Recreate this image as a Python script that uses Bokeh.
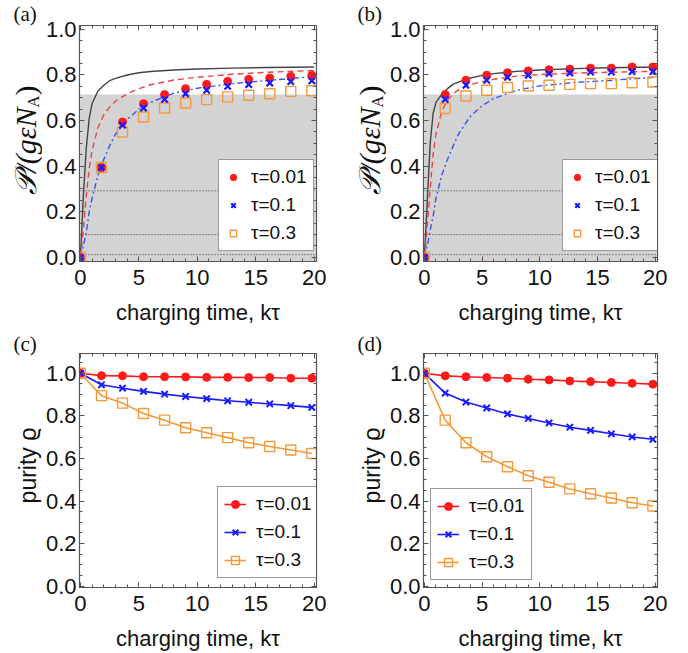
import math
from bokeh.plotting import figure
from bokeh.layouts import column, row
from bokeh.models import (Range1d, SingleIntervalTicker, LinearAxis, Label, Legend, LegendItem,
                          BoxAnnotation, Span, PrintfTickFormatter, CustomJSTickFormatter)
from bokeh.embed import file_html
from bokeh.resources import INLINE

# ---------------- data ----------------
t_pts = [0, 1.8, 3.6, 5.4, 7.2, 9.0, 10.8, 12.6, 14.4, 16.2, 18.0, 19.8]
labels = ["τ=0.01", "τ=0.1", "τ=0.3"]

# (a) power, markers
a_t001 = [0, 0.394, 0.594, 0.674, 0.714, 0.740, 0.759, 0.772, 0.781, 0.787, 0.794, 0.799]
a_t01 = [0, 0.394, 0.580, 0.655, 0.693, 0.718, 0.733, 0.750, 0.758, 0.765, 0.771, 0.774]
a_t03 = [0, 0.394, 0.550, 0.616, 0.655, 0.677, 0.692, 0.704, 0.711, 0.718, 0.728, 0.731]
# (b) power, markers
b_t001 = [0, 0.714, 0.777, 0.799, 0.810, 0.818, 0.823, 0.826, 0.830, 0.830, 0.835, 0.835]
b_t01 = [0, 0.693, 0.755, 0.777, 0.790, 0.799, 0.806, 0.809, 0.813, 0.813, 0.815, 0.815]
b_t03 = [0, 0.653, 0.708, 0.733, 0.745, 0.752, 0.755, 0.759, 0.762, 0.762, 0.766, 0.769]

# reference curves (sampled)
t_curve = [0, 0.25, 0.5, 0.75, 1.0, 1.5, 2.0, 2.5, 3.0, 4.0, 5.0, 6.0, 8.0, 10.0, 13.0, 16.0, 20.0]
a_solid = [0, 0.27, 0.48, 0.61, 0.675, 0.73, 0.755, 0.775, 0.785, 0.80, 0.81, 0.815, 0.822, 0.826, 0.83, 0.833, 0.835]
a_dashed = [0, 0.12, 0.27, 0.39, 0.47, 0.57, 0.625, 0.66, 0.685, 0.718, 0.74, 0.757, 0.778, 0.79, 0.803, 0.812, 0.82]
a_dashdot = [0, 0.05, 0.11, 0.20, 0.26, 0.36, 0.43, 0.49, 0.54, 0.605, 0.65, 0.68, 0.72, 0.742, 0.762, 0.776, 0.793]
b_solid = [0, 0.25, 0.50, 0.63, 0.68, 0.715, 0.74, 0.76, 0.77, 0.787, 0.798, 0.806, 0.816, 0.822, 0.828, 0.832, 0.835]
b_dashed = [0, 0.14, 0.30, 0.45, 0.54, 0.64, 0.69, 0.718, 0.737, 0.758, 0.771, 0.781, 0.795, 0.802, 0.808, 0.812, 0.816]
b_dashdot = [0, 0.05, 0.12, 0.18, 0.26, 0.36, 0.43, 0.49, 0.545, 0.62, 0.665, 0.697, 0.733, 0.752, 0.767, 0.776, 0.79]

gray_band_top = 0.714
dotted_levels = [0.292, 0.10, 0.012]

# (c) purity
c_t001 = [1.0, 0.989, 0.988, 0.984, 0.984, 0.983, 0.981, 0.981, 0.980, 0.980, 0.977, 0.977]
c_t01 = [1.0, 0.946, 0.930, 0.915, 0.902, 0.891, 0.881, 0.871, 0.864, 0.856, 0.848, 0.840]
c_t03 = [1.0, 0.895, 0.860, 0.811, 0.780, 0.744, 0.721, 0.698, 0.674, 0.656, 0.640, 0.623]
# (d) purity
d_t001 = [1.0, 0.988, 0.984, 0.980, 0.977, 0.972, 0.969, 0.964, 0.961, 0.957, 0.953, 0.949]
d_t01 = [1.0, 0.907, 0.865, 0.837, 0.809, 0.788, 0.767, 0.747, 0.732, 0.716, 0.701, 0.690]
d_t03 = [1.0, 0.780, 0.674, 0.608, 0.561, 0.519, 0.488, 0.457, 0.434, 0.414, 0.392, 0.377]

RED = "#ff1a1a"
BLUE = "#1a1aff"
ORANGE = "#f59a3a"
SANS = "Liberation Sans"
SERIF = "Liberation Serif"
XR = (-0.08, 20.2)
YR_P = (-0.018, 1.017)
YR_Q = (-0.006, 1.093)
LAB_W = 42


def base_panel(width, height, left, right, top, bottom, yr, xlab_standoff):
    p = figure(width=width, height=height, output_backend="svg", toolbar_location=None,
               title=None,
               x_range=Range1d(*XR), y_range=Range1d(*yr),
               min_border_left=left, min_border_right=right,
               min_border_top=top, min_border_bottom=bottom,
               x_axis_location=None, y_axis_location=None)
    p.xgrid.visible = False
    p.ygrid.visible = False
    p.outline_line_color = "#555555"
    p.outline_line_width = 1.2
    p.background_fill_color = "white"
    p.border_fill_color = "white"

    def mk_axis(kind, side):
        if kind == "x":
            ax = LinearAxis(ticker=SingleIntervalTicker(interval=5, num_minor_ticks=5))
        else:
            ax = LinearAxis(ticker=SingleIntervalTicker(interval=0.2, num_minor_ticks=4),
                            formatter=PrintfTickFormatter(format="%.1f"))
        ax.major_tick_in = 5
        ax.major_tick_out = 0
        ax.minor_tick_in = 3
        ax.minor_tick_out = 0
        ax.axis_line_color = "#555555"
        ax.major_tick_line_color = "#555555"
        ax.minor_tick_line_color = "#555555"
        if side in ("above", "right"):
            ax.formatter = CustomJSTickFormatter(code="return ''")
            ax.major_label_standoff = 0
        else:
            ax.major_label_text_font = SANS
            ax.major_label_text_font_size = "22px"
            ax.major_label_text_color = "#111111"
            ax.major_label_standoff = 3
        p.add_layout(ax, side)
        return ax

    xb = mk_axis("x", "below")
    yl = mk_axis("y", "left")
    mk_axis("x", "above")
    mk_axis("y", "right")
    xb.major_label_standoff = 8
    xb.axis_label = "charging time, kτ"
    xb.axis_label_text_font = SANS
    xb.axis_label_text_font_size = "22px"
    xb.axis_label_text_font_style = "normal"
    xb.axis_label_text_color = "#111111"
    xb.axis_label_standoff = xlab_standoff
    return p, yl


def label_fig(height):
    f = figure(width=LAB_W, height=height, output_backend="svg", toolbar_location=None,
               title=None, frame_align=False,
               x_range=Range1d(0, LAB_W), y_range=Range1d(0, height),
               min_border=0, min_border_left=0, min_border_right=0,
               min_border_top=0, min_border_bottom=0,
               x_axis_location=None, y_axis_location=None)
    f.xgrid.visible = False
    f.ygrid.visible = False
    f.outline_line_color = None
    f.border_fill_color = "white"
    f.background_fill_color = "white"
    return f


def letter_label(f, txt, height):
    f.add_layout(Label(x=13, y=height - 1, text=txt, text_font=SERIF, text_font_size="21px",
                       text_color="#111111", text_baseline="top", text_align="left"))


def power_label_fig(letter):
    h = 330
    f = label_fig(h)
    letter_label(f, letter, h)
    common = dict(angle=math.pi / 2, text_color="#111111", text_baseline="middle",
                  text_align="right")
    # anchored at the upper end of each piece (text reads bottom-to-top)
    f.add_layout(Label(x=25, y=245, text=")", text_font=SERIF, text_font_size="30px", **common))
    f.add_layout(Label(x=33, y=235, text="A", text_font=SERIF, text_font_size="17px", **common))
    f.add_layout(Label(x=25, y=223, text="𝒫/(gεN", text_font=SERIF, text_font_style="italic",
                       text_font_size="30px", **common))
    return f


def purity_label_fig(letter):
    h = 323
    f = label_fig(h)
    letter_label(f, letter, h)
    f.add_layout(Label(x=27, y=188, text="purity ϱ", text_font=SANS, text_font_size="23px",
                       angle=math.pi / 2, text_color="#111111", text_baseline="middle",
                       text_align="center"))
    return f


def make_legend(items, loc, glyph_width, padding):
    return Legend(items=items, location=loc, label_text_font=SANS, label_text_font_size="19px",
                  label_text_color="#111111", glyph_width=glyph_width, glyph_height=20,
                  label_height=20, label_standoff=10, spacing=6, padding=padding, margin=0,
                  border_line_color="#333333", border_line_width=1,
                  background_fill_color="white", background_fill_alpha=1.0)


def power_panel(width, left, right, mk, curves, leg_loc):
    p, yl = base_panel(width, 330, left, right, 25, 69, YR_P, 12)
    p.add_layout(BoxAnnotation(top=gray_band_top, fill_color="#d3d3d3", fill_alpha=1.0,
                               line_color=None, level="underlay"))
    for lv in dotted_levels:
        p.add_layout(Span(location=lv, dimension="width", line_color="#333333",
                          line_dash="1 2", line_width=1, level="underlay"))
    solid, dashed, dashdot = curves
    p.line(t_curve, solid, line_color="#444444", line_width=1.4)
    p.line(t_curve, dashed, line_color="#e8454a", line_width=1.4, line_dash="6 4")
    p.line(t_curve, dashdot, line_color="#3d55e6", line_width=1.4, line_dash="6 3 2 3")
    r3 = p.scatter(t_pts, mk[2], marker="square", size=10, fill_color=None,
                   line_color=ORANGE, line_width=1.4)
    r1 = p.scatter(t_pts, mk[0], marker="circle", size=8, fill_color=RED, line_color=RED)
    r2 = p.scatter(t_pts, mk[1], marker="x", size=9, line_color=BLUE, line_width=2.2)
    leg = make_legend([LegendItem(label=labels[0], renderers=[r1]),
                       LegendItem(label=labels[1], renderers=[r2]),
                       LegendItem(label=labels[2], renderers=[r3])], leg_loc, 16, 6)
    p.add_layout(leg, "center")
    return p


def purity_panel(width, left, right, ys, leg_loc):
    p, yl = base_panel(width, 323, left, right, 23, 64, YR_Q, 12)
    specs = [(RED, dict(marker="circle", size=8, fill_color=RED, line_color=RED)),
             (BLUE, dict(marker="x", size=9, line_color=BLUE, line_width=2)),
             (ORANGE, dict(marker="square", size=10, fill_color=None, line_color=ORANGE, line_width=1.4))]
    rends = []
    for (col, kw), y in zip(specs, ys):
        lr = p.line(t_pts, y, line_color=col, line_width=1.6)
        rends.append([lr])
    for (col, kw), y, rr in zip(specs, ys, rends):
        rr.append(p.scatter(t_pts, y, **kw))
    items = [LegendItem(label=lab, renderers=rr) for lab, rr in zip(labels, rends)]
    p.add_layout(make_legend(items, leg_loc, 22, 6), "center")
    return p


PW = 344 - LAB_W
pa = power_panel(PW, 79 - LAB_W, PW - (79 - LAB_W) - 237, (a_t001, a_t01, a_t03),
                 (a_solid, a_dashed, a_dashdot), (139, 10))
pb = power_panel(PW, 76 - LAB_W, PW - (76 - LAB_W) - 237, (b_t001, b_t01, b_t03),
                 (b_solid, b_dashed, b_dashdot), (139, 10))
pc = purity_panel(PW, 79 - LAB_W, PW - (79 - LAB_W) - 237, (c_t001, c_t01, c_t03), (138, 9))
pd = purity_panel(PW, 76 - LAB_W, PW - (76 - LAB_W) - 237, (d_t001, d_t01, d_t03), (7, 7))

layout = column(
    row(power_label_fig("(a)"), pa, power_label_fig("(b)"), pb),
    row(purity_label_fig("(c)"), pc, purity_label_fig("(d)"), pd),
)
open("out.html", "w").write(file_html(layout, INLINE))
